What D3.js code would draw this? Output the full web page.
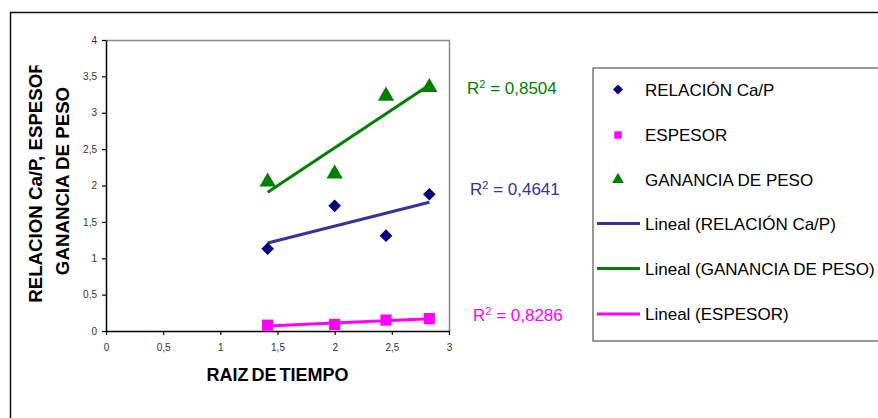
<!DOCTYPE html>
<html>
<head>
<meta charset="utf-8">
<script src="https://cdn.jsdelivr.net/npm/d3@7"></script>
<style>
  html, body { margin: 0; padding: 0; background: #fff; }
  svg { display: block; font-family: "Liberation Sans", Arial, sans-serif; }
</style>
</head>
<body>
<svg id="chart" width="878" height="418"></svg>
<script>
// Square root of time (weeks) at which each sample was taken
const raizTiempo = [1.414, 2.0, 2.449, 2.828];

// Measured series
const relacionCaP = [1.13, 1.72, 1.31, 1.88];
const espesor = [0.08, 0.09, 0.15, 0.17];
const gananciaPeso = [2.05, 2.16, 3.23, 3.35];

// Coefficients of determination shown beside each trend line
const r2Labels = ["R² = 0,8504", "R² = 0,4641", "R² = 0,8286"];

// Axis ticks
const xTicks = [0, 0.5, 1, 1.5, 2, 2.5, 3];
const yTicks = [0, 0.5, 1, 1.5, 2, 2.5, 3, 3.5, 4];

const legendLabels = [
  "RELACIÓN Ca/P",
  "ESPESOR",
  "GANANCIA DE PESO",
  "Lineal (RELACIÓN Ca/P)",
  "Lineal (GANANCIA DE PESO)",
  "Lineal (ESPESOR)"
];

const C = {
  navy: "#000080",
  slate: "#333399",
  magenta: "#ff00ff",
  green: "#008000"
};

const svg = d3.select("#chart");
const fmt = d => String(d).replace(".", ",");

// Square-cornered diamond: a square turned 45 degrees
const rhombus = {
  draw(ctx, size) {
    const r = Math.sqrt(size / 2);
    ctx.moveTo(0, -r); ctx.lineTo(r, 0); ctx.lineTo(0, r); ctx.lineTo(-r, 0); ctx.closePath();
  }
};

// Outer chart frame
svg.append("rect")
  .attr("x", 10.5).attr("y", 12.5)
  .attr("width", 900).attr("height", 440)
  .attr("fill", "#fff").attr("stroke", "#111").attr("stroke-width", 1.5);

const plot = { left: 106, right: 449, top: 40, bottom: 331 };

const x = d3.scaleLinear().domain([0, 3]).range([plot.left, plot.right]);
const y = d3.scaleLinear().domain([0, 4]).range([plot.bottom, plot.top]);

// Plot-area border (top and right edges in grey)
svg.append("path")
  .attr("d", `M${plot.left},${plot.top + 0.5}H${plot.right + 0.5}V${plot.bottom}`)
  .attr("fill", "none").attr("stroke", "#8a8a8a").attr("stroke-width", 1.5);

// Axes
const xAxis = d3.axisBottom(x).tickValues(xTicks).tickFormat(fmt).tickSizeInner(4).tickSizeOuter(0).tickPadding(9);
const yAxis = d3.axisLeft(y).tickValues(yTicks).tickFormat(fmt).tickSizeInner(4).tickSizeOuter(0).tickPadding(5);

const gx = svg.append("g").attr("transform", `translate(0,${plot.bottom})`).call(xAxis);
const gy = svg.append("g").attr("transform", `translate(${plot.left},0)`).call(yAxis);
[gx, gy].forEach(g => {
  g.select(".domain").attr("stroke", "#000").attr("stroke-width", 1.5);
  g.selectAll(".tick line").attr("stroke", "#000").attr("stroke-width", 1.2);
  g.selectAll(".tick text").attr("fill", "#333").attr("font-size", 10)
    .attr("font-family", "Liberation Sans, Arial, sans-serif");
});

// Axis titles
svg.append("text")
  .attr("x", (plot.left + plot.right) / 2).attr("y", 381)
  .attr("text-anchor", "middle").attr("font-weight", "bold").attr("font-size", 18)
  .attr("word-spacing", -2)
  .text("RAIZ DE TIEMPO");

svg.append("clipPath").attr("id", "ytitle-clip")
  .append("rect").attr("x", 0).attr("y", 65.5).attr("width", 100).attr("height", 300);

const yTitle = svg.append("g").attr("clip-path", "url(#ytitle-clip)");
yTitle.append("text")
  .attr("transform", "translate(42,181.5) rotate(-90)")
  .attr("text-anchor", "middle").attr("font-weight", "bold").attr("font-size", 18.7)
  .text("RELACION Ca/P, ESPESOR");
yTitle.append("text")
  .attr("transform", "translate(68.5,181) rotate(-90)")
  .attr("text-anchor", "middle").attr("font-weight", "bold").attr("font-size", 18.7)
  .text("GANANCIA DE PESO");

// Least-squares trend line
function fit(xs, ys) {
  const n = xs.length;
  const mx = d3.mean(xs), my = d3.mean(ys);
  let sxy = 0, sxx = 0;
  for (let i = 0; i < n; i++) {
    sxy += (xs[i] - mx) * (ys[i] - my);
    sxx += (xs[i] - mx) ** 2;
  }
  const b = sxy / sxx, a = my - b * mx;
  const x0 = d3.min(xs), x1 = d3.max(xs);
  return [[x0, a + b * x0], [x1, a + b * x1]];
}

const line = d3.line().x(d => x(d[0])).y(d => y(d[1]));

const series = [
  { vals: relacionCaP, marker: rhombus, size: 80, fill: C.navy, trend: C.slate },
  { vals: espesor, marker: d3.symbolSquare, size: 125, fill: C.magenta, trend: C.magenta },
  { vals: gananciaPeso, marker: d3.symbolTriangle, size: 115, fill: C.green, trend: C.green }
];

// Trend lines first, markers on top
series.forEach(s => {
  svg.append("path")
    .attr("d", line(fit(raizTiempo, s.vals)))
    .attr("fill", "none").attr("stroke", s.trend).attr("stroke-width", 3);
});
series.forEach(s => {
  svg.append("g").selectAll("path")
    .data(s.vals)
    .join("path")
    .attr("transform", (d, i) => `translate(${x(raizTiempo[i])},${y(d)})`)
    .attr("d", d3.symbol().type(s.marker).size(s.size))
    .attr("fill", s.fill);
});

// R² annotations
const r2Pos = [
  { x: 467, y: 93.5, color: C.green },
  { x: 470, y: 194.5, color: C.slate },
  { x: 473, y: 321, color: C.magenta }
];
r2Labels.forEach((t, i) => {
  const [head, tail] = t.split("²");
  const txt = svg.append("text")
    .attr("x", r2Pos[i].x).attr("y", r2Pos[i].y)
    .attr("fill", r2Pos[i].color).attr("font-size", 17);
  txt.append("tspan").text(head);
  txt.append("tspan").attr("font-size", 11).attr("dy", -6).text("2");
  txt.append("tspan").attr("dy", 6).text(tail);
});

// Legend
svg.append("rect")
  .attr("x", 593).attr("y", 68).attr("width", 320).attr("height", 273)
  .attr("fill", "#fff").attr("stroke", "#555").attr("stroke-width", 1.2);

const rowY = [89.5, 135, 179.5, 223.5, 268.5, 314];
const legendMarks = [
  { type: "symbol", marker: rhombus, size: 50, color: C.navy },
  { type: "symbol", marker: d3.symbolSquare, size: 55, color: C.magenta },
  { type: "symbol", marker: d3.symbolTriangle, size: 60, color: C.green },
  { type: "line", color: C.slate },
  { type: "line", color: C.green },
  { type: "line", color: C.magenta }
];
legendLabels.forEach((label, i) => {
  const m = legendMarks[i];
  if (m.type === "symbol") {
    svg.append("path")
      .attr("transform", `translate(618,${rowY[i]})`)
      .attr("d", d3.symbol().type(m.marker).size(m.size))
      .attr("fill", m.color);
  } else {
    svg.append("line")
      .attr("x1", 597).attr("x2", 640).attr("y1", rowY[i]).attr("y2", rowY[i])
      .attr("stroke", m.color).attr("stroke-width", 3);
  }
  svg.append("text")
    .attr("x", 645).attr("y", rowY[i] + 6)
    .attr("font-size", 17).attr("fill", "#000")
    .text(label);
});
</script>
</body>
</html>
